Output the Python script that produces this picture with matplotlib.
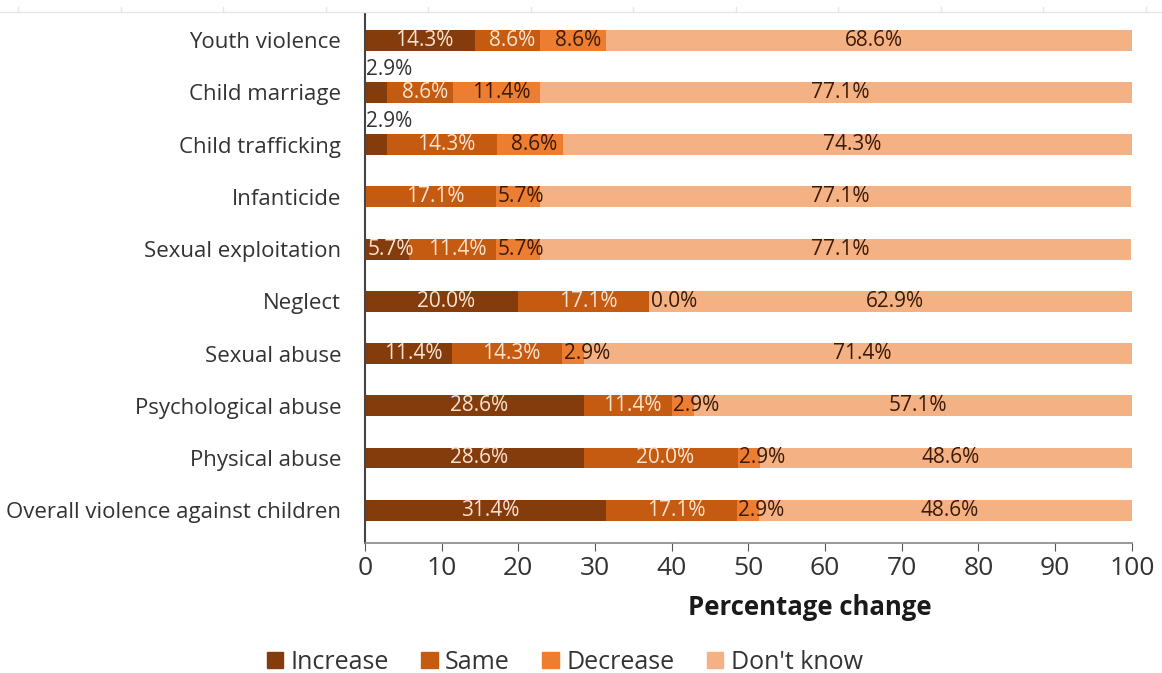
import matplotlib.pyplot as plt
import numpy as np
from matplotlib.lines import Line2D
from matplotlib.patches import Patch

plt.rcParams['font.family'] = ['Open Sans', 'DejaVu Sans']

# categories top to bottom
categories = [
    'Youth violence', 'Child marriage', 'Child trafficking', 'Infanticide',
    'Sexual exploitation', 'Neglect', 'Sexual abuse', 'Psychological abuse',
    'Physical abuse', 'Overall violence against children',
]
increase = [14.3, 2.9, 2.9, 0.0, 5.7, 20.0, 11.4, 28.6, 28.6, 31.4]
same = [8.6, 8.6, 14.3, 17.1, 11.4, 17.1, 14.3, 11.4, 20.0, 17.1]
decrease = [8.6, 11.4, 8.6, 5.7, 5.7, 0.0, 2.9, 2.9, 2.9, 2.9]
dont_know = [68.6, 77.1, 74.3, 77.1, 77.1, 62.9, 71.4, 57.1, 48.6, 48.6]

series_names = ['Increase', 'Same', 'Decrease', "Don't know"]
colors = ['#843c0c', '#c55a11', '#ed7d31', '#f4b183']
label_colors = ['#fbe3d0', '#fbe3d0', '#3b1a06', '#3b1a06']

fig = plt.figure(figsize=(11.62, 6.73), dpi=100)
ax = fig.add_axes([0.314, 0.193, 0.66, 0.786])

y = np.arange(len(categories))
left = np.zeros(len(categories))
for name, vals, col, tcol in zip(series_names, [increase, same, decrease, dont_know],
                                 colors, label_colors):
    vals = np.array(vals)
    ax.barh(y, vals, left=left, height=0.4, color=col, label=name)
    for i, v in enumerate(vals):
        if name != 'Decrease' and v == 0:
            continue
        txt = f'{v:.1f}%'
        if name == 'Increase' and v < 4:
            # tiny segment: label sits above the bar
            ax.text(left[i] + 0.1, i - 0.44, txt, ha='left', va='center',
                    fontsize=15, color='#333333')
        elif name == 'Decrease' and v < 8:
            ax.text(left[i] + 0.2, i, txt, ha='left', va='center',
                    fontsize=15, color=tcol)
        else:
            ax.text(left[i] + v / 2 + 0.6, i, txt, ha='center', va='center',
                    fontsize=15, color=tcol)
    left += vals

ax.set_yticks(y)
ax.set_yticklabels(categories, fontsize=16, color='#333333')
ax.set_ylim(len(categories) - 0.37, -0.5)
ax.set_xlim(0, 100)
ax.set_xticks(np.arange(0, 101, 10))
ax.tick_params(axis='x', labelsize=19, colors='#555555', length=6, pad=3,
               labelcolor='#333333')
ax.tick_params(axis='y', length=0, pad=17)
ax.set_xlabel('Percentage change', fontsize=18.5, fontweight='bold', color='#1a1a1a',
              labelpad=10, x=0.58)

for s in ['top', 'right']:
    ax.spines[s].set_visible(False)
ax.spines['left'].set_color('#444444')
ax.spines['left'].set_linewidth(1.5)
ax.spines['bottom'].set_color('#888888')
ax.spines['bottom'].set_linewidth(1.2)

handles = [Patch(color=c) for c in colors]
fig.legend(handles, series_names, loc='center', bbox_to_anchor=(0.486, 0.016),
           ncol=4, frameon=False, fontsize=18, handlelength=0.65, handleheight=0.65,
           columnspacing=1.3, handletextpad=0.3, labelcolor='#333333')

# faint line at the very top of the image
fig.add_artist(Line2D([0, 1], [0.982, 0.982], color='#e6e6e6', lw=1))
for xt in np.arange(18, 1162, 102.5):
    fig.add_artist(Line2D([xt / 1162, xt / 1162], [0.982, 0.99], color='#e6e6e6', lw=1))

fig.savefig('out.png', dpi=100)
